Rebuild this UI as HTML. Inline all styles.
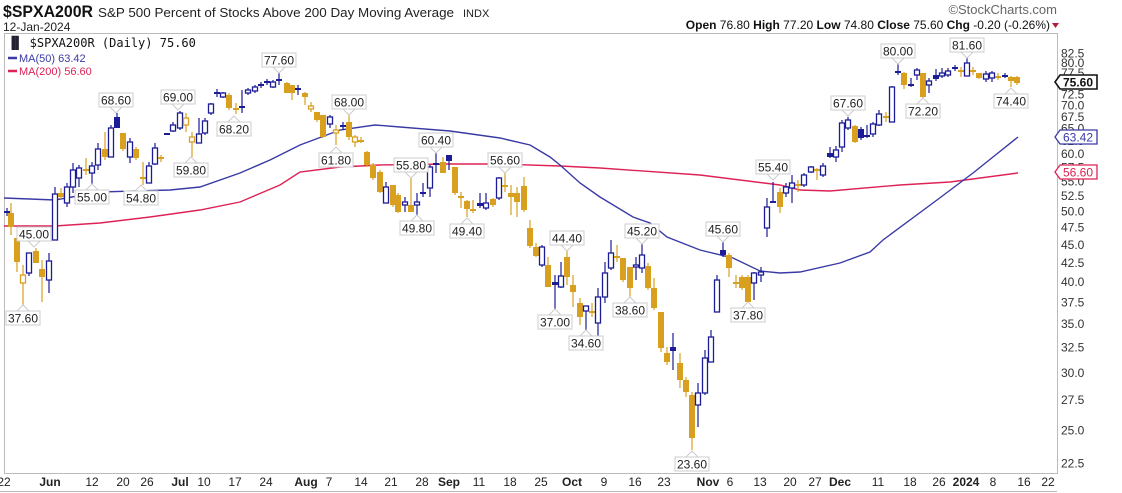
<!DOCTYPE html>
<html><head><meta charset="utf-8">
<style>
html,body{margin:0;padding:0;background:#fff;}
svg{display:block;font-family:"Liberation Sans",sans-serif;}
</style></head>
<body>
<svg id="s" width="1122" height="493" viewBox="0 0 1122 493" xmlns="http://www.w3.org/2000/svg">
<rect x="0" y="0" width="1122" height="493" fill="#fff"/>
<text x="3" y="17" font-size="17" font-weight="bold" fill="#111" textLength="90" lengthAdjust="spacingAndGlyphs">$SPXA200R</text>
<text x="98" y="17" font-size="13" fill="#222" textLength="356" lengthAdjust="spacingAndGlyphs">S&amp;P 500 Percent of Stocks Above 200 Day Moving Average</text>
<text x="463" y="17" font-size="11" fill="#222">INDX</text>
<text x="3" y="31" font-size="12" fill="#222">12-Jan-2024</text>
<text x="1057" y="14" font-size="13" fill="#666" text-anchor="end">©StockCharts.com</text>
<text x="1050" y="29" font-size="12" fill="#111" text-anchor="end"><tspan font-weight="bold">Open</tspan> 76.80  <tspan font-weight="bold">High</tspan> 77.20  <tspan font-weight="bold">Low</tspan> 74.80  <tspan font-weight="bold">Close</tspan> 75.60  <tspan font-weight="bold">Chg</tspan> -0.20 (-0.26%)</text>
<polygon points="1052,23 1059,23 1055.5,28" fill="#b0203a"/>
<rect x="4.5" y="33.5" width="1053" height="440" fill="none" stroke="#bbb"/>
<line x1="0" y1="491.5" x2="1057" y2="491.5" stroke="#bbb"/>
<g id="ma"></g>
<g id="cd"></g>
<g id="lb"></g>
<g id="ax"></g>
<text x="8" y="47" font-size="12" fill="#111" font-family="'DejaVu Sans Mono','Liberation Mono',monospace"><tspan fill="#223">▐▌</tspan> $SPXA200R (Daily) 75.60</text>
<line x1="8" y1="58" x2="17" y2="58" stroke="#3a3aa6" stroke-width="2.5"/>
<text x="19" y="62" font-size="11" fill="#3a3aa6">MA(50) 63.42</text>
<line x1="8" y1="71" x2="17" y2="71" stroke="#dd2255" stroke-width="2.5"/>
<text x="19" y="75" font-size="11" fill="#dd2255">MA(200) 56.60</text>
</svg>
<script>
const NS="http://www.w3.org/2000/svg";
function el(p,t,a,txt){const e=document.createElementNS(NS,t);for(const k in a)e.setAttribute(k,a[k]);if(txt!==undefined)e.textContent=txt;p.appendChild(e);return e;}
const BL="#1c1c96",GD="#d9a020";
const C=[[7,'c',212,212,208,216],[11,'g',213,227,203,235],[17,'g',238,262,238,272],[23,'h',275,283,265,307],[29,'b',253,273,253,276],[36,'g',251,263,248,263],[42,'g',269,277,260,302],[49,'b',261,280,253,293],[55,'b',194,240,187,240],[61,'g',193,197,188,199],[67,'b',187,203,183,207],[73,'b',170,187,163,193],[79,'b',168,178,165,187],[86,'x',170,170,158,175],[92,'b',166,173,162,185],[98,'b',149,165,143,170],[105,'g',149,157,132,160],[111,'b',128,157,125,157],[117,'B',117,128,113,128],[123,'g',133,149,133,151],[130,'b',142,157,138,163],[136,'g',149,158,147,160],[143,'x',178,178,162,185],[149,'b',166,183,162,183],[155,'b',148,164,143,165],[161,'x',158,158,155,162],[167,'c',134,134,134,134],[173,'b',125,131,122,132],[180,'b',113,128,111,130],[186,'h',118,125,113,132],[192,'h',137,142,132,157],[199,'b',134,143,118,143],[205,'b',121,133,118,135],[211,'b',104,113,103,115],[217,'c',93,93,89,97],[223,'b',93,97,92,98],[229,'g',95,108,93,110],[236,'x',109,109,103,114],[242,'c',107,107,90,113],[248,'b',90,93,88,95],[255,'b',87,91,85,93],[261,'c',85,85,82,88],[267,'B',81,83,79,85],[273,'b',82,87,80,88],
[279,'c',80,80,73,85],[287,'g',83,93,82,93],[292,'g',85,93,85,100],[298,'c',89,89,85,95],[305,'g',93,97,92,105],[311,'h',106,109,102,112],[317,'g',112,120,112,122],[323,'g',115,137,115,138],[330,'b',117,124,115,128],[336,'h',130,133,125,145],[343,'c',126,126,122,130],[349,'g',122,137,115,140],[355,'h',137,142,135,147],[361,'x',141,141,137,143],[367,'g',152,165,151,167],[373,'g',165,178,163,180],[380,'g',172,192,170,193],[386,'b',187,203,182,203],[393,'g',185,205,185,207],[398,'g',195,212,193,213],[405,'b',202,205,197,212],[411,'g',205,212,165,212],[417,'b',202,205,193,215],[423,'c',193,193,183,197],[430,'b',167,188,165,197],[436,'c',164,164,150,173],[443,'g',162,173,157,173],[449,'B',155,161,155,170],[455,'g',167,193,167,195],[461,'x',197,197,192,208],[467,'g',201,209,200,217],[473,'x',210,210,200,213],[480,'B',203,206,193,208],[486,'b',203,208,193,210],[493,'g',199,205,198,207],[499,'b',178,198,177,200],[505,'x',186,186,173,192],[511,'g',193,197,185,215],[517,'g',193,202,187,217],[524,'g',186,210,177,212],[530,'g',228,246,220,248],[536,'g',247,256,243,257],[542,'b',247,265,245,267],[548,'g',265,287,257,287],[555,'B',282,285,275,310],[561,'b',276,287,262,288],[567,'g',257,277,250,285],[573,'g',285,292,275,307],[580,'g',303,317,298,325],[586,'b',306,311,306,332],[592,'x',312,312,303,317],[598,'b',297,323,288,337],[605,'b',273,297,262,303],[611,'b',253,268,240,270],[617,'x',257,257,245,262],[623,'g',258,280,258,282],[630,'g',267,288,267,297],[636,'b',265,267,257,280],[642,'b',255,268,244,273],[648,'g',266,288,263,290],[654,'g',288,308,278,310],[661,'g',312,348,312,352],[667,'g',353,362,347,365],[673,'B',347,351,333,370],[680,'g',363,380,353,388],[686,'g',380,392,377,397],[692,'g',395,438,392,450],[698,'b',393,405,383,427],[705,'b',358,393,350,395],[711,'b',337,362,330,362],[717,'b',280,312,275,312],[723,'B',250,255,242,257],[729,'g',255,268,253,277],[736,'x',283,283,275,288],[742,'g',277,288,275,290],[748,'g',277,302,275,303],[754,'b',273,283,272,300],[761,'b',272,275,267,282],[767,'b',207,228,198,237],[773,'c',202,202,182,203],
[780,'g',192,207,188,213],[786,'b',187,193,183,197],[792,'b',183,188,175,203],[798,'x',185,185,180,192],[804,'b',175,185,173,187],[811,'b',167,172,166,173],[817,'x',170,170,168,180],[823,'b',166,175,163,177],[830,'B',153,157,147,158],[836,'b',150,157,146,162],[842,'b',123,147,120,152],[848,'b',120,128,117,130],[855,'g',126,142,125,143],[861,'B',129,138,127,140],[867,'c',136,136,125,138],[873,'b',124,134,122,137],[879,'b',114,125,110,126],[886,'x',117,117,112,122],[892,'b',87,122,86,122],[898,'c',72,72,64,75],[904,'g',73,85,72,89],[911,'B',84,86,78,87],[917,'b',70,75,68,80],[923,'g',73,97,73,98],[929,'b',81,85,78,93],[936,'B',75,79,69,81],[942,'b',73,76,68,78],[948,'b',71,75,68,77],[955,'c',68,68,65,71],[961,'x',71,71,67,77],[967,'b',63,76,57,76],[973,'x',71,71,67,75],[979,'g',73,78,73,79],[986,'b',74,79,71,82],[992,'b',73,78,71,82],[998,'x',77,77,73,80],[1005,'c',76,76,73,78],[1011,'g',77,81,76,87],[1017,'g',77,83,76,85]];
const cd=document.getElementById('cd');
for(const [x,t,bt,bb,wt,wb] of C){
  const col=(t=='g'||t=='h'||t=='x')?GD:BL;
  el(cd,'line',{x1:x,y1:wt,x2:x,y2:wb,stroke:col,'stroke-width':1.2});
  if(t=='c'||t=='x'){el(cd,'line',{x1:x-3,y1:bt,x2:x+3,y2:bt,stroke:col,'stroke-width':2});}
  else if(t=='b'||t=='h'){el(cd,'rect',{x:x-2.5,y:bt,width:5,height:Math.max(bb-bt,2),fill:'#fff',stroke:col,'stroke-width':1.3});}
  else{el(cd,'rect',{x:x-3,y:bt,width:6,height:Math.max(bb-bt,2),fill:col});}
}
const ma=document.getElementById('ma');
const m50=[[4,198],[55,200],[100,192],[170,190],[200,187],[240,173],[270,160],[300,145],[340,130],[375,125],[400,127],[450,131],[500,138],[530,145],[550,157],[560,165],[580,183],[600,197],[633,217],[650,223],[667,237],[700,250],[733,258],[760,271],[780,273],[800,272],[840,263],[870,252],[883,240],[937,200],[973,173],[993,157],[1018,137]];
const m200=[[4,226],[55,226],[100,223],[150,217],[200,210],[240,202],[280,185],[300,172],[340,167],[380,165],[450,164],[500,164],[560,166],[600,168],[700,175],[780,185],[800,190],[830,191],[900,185],[950,182],[1018,173]];
el(ma,'polyline',{points:m200.map(p=>p.join(',')).join(' '),fill:'none',stroke:'#dd2255','stroke-width':1.4});
el(ma,'polyline',{points:m50.map(p=>p.join(',')).join(' '),fill:'none',stroke:'#3a3aa6','stroke-width':1.4});
const L=[['68.60',116,100,1],['69.00',178,97,1],['55.00',92,197,0],['54.80',141,198,0],['45.00',34,234,1],['37.60',23,318,0],['59.80',191,170,0],['68.20',234,129,0],['77.60',279,60,1],['68.00',349,102,1],['61.80',336,160,0],['55.80',411,165,1],['49.80',417,228,0],['60.40',436,140,1],['49.40',467,231,0],['56.60',505,160,1],['44.40',567,238,1],['37.00',555,322,0],['34.60',586,343,0],['45.20',642,231,1],['38.60',630,310,0],['23.60',692,464,0],['45.60',723,229,1],['37.80',748,315,0],['55.40',773,167,1],['67.60',848,103,1],['80.00',898,51,1],['72.20',923,111,0],['81.60',967,45,1],['74.40',1011,101,0]];
const lb=document.getElementById('lb');
for(const [t,x,y,h] of L){
  if(h) el(lb,'polyline',{points:`${x-6},${y+7} ${x},${y+13} ${x+6},${y+7}`,fill:'#fff',stroke:'#ccc'});
  else el(lb,'polyline',{points:`${x-6},${y-7} ${x},${y-13} ${x+6},${y-7}`,fill:'#fff',stroke:'#ccc'});
  el(lb,'rect',{x:x-17,y:y-7,width:34,height:14,fill:'#fff',stroke:'#ccc'});
  el(lb,'text',{x:x,y:y+4.5,'font-size':12,'text-anchor':'middle',fill:'#222'},t);
}
const ax=document.getElementById('ax');
for(let v=22.5;v<=82.6;v+=2.5){
  const y=53+315.6*(Math.log(82.5)-Math.log(v));
  el(ax,'text',{x:1061,y:y+4.5,'font-size':12,fill:'#333'},v.toFixed(1));
}
function box(y,t,col,bold){
  el(ax,'polygon',{points:`1055,${y} 1060,${y-7} 1097,${y-7} 1097,${y+7} 1060,${y+7}`,fill:'#fff',stroke:col,'stroke-width':bold?1.6:1.3});
  el(ax,'text',{x:1078,y:y+4.5,'font-size':12,'font-weight':bold?'bold':'normal','text-anchor':'middle',fill:bold?'#111':col},t);
}
box(82,'75.60','#111',1);box(137,'63.42','#3a3aa6',0);box(172,'56.60','#dd2255',0);
const X=[['22',4,0],['Jun',50,1],['12',92,0],['20',123,0],['26',147,0],['Jul',180,1],['10',204,0],['17',235,0],['24',266,0],['Aug',306,1],['7',329,0],['14',361,0],['21',391,0],['28',422,0],['Sep',449,1],['11',479,0],['18',510,0],['25',541,0],['Oct',572,1],['9',604,0],['16',635,0],['23',664,0],['Nov',708,1],['6',730,0],['13',760,0],['20',790,0],['27',815,0],['Dec',840,1],['11',878,0],['18',910,0],['26',939,0],['2024',966,1],['8',993,0],['16',1024,0],['22',1048,0]];
for(const [t,x,b] of X){
  el(ax,'text',{x:x,y:486,'font-size':12,'text-anchor':'middle',fill:'#222','font-weight':b?'bold':'normal'},t);
}
</script>
</body></html>
